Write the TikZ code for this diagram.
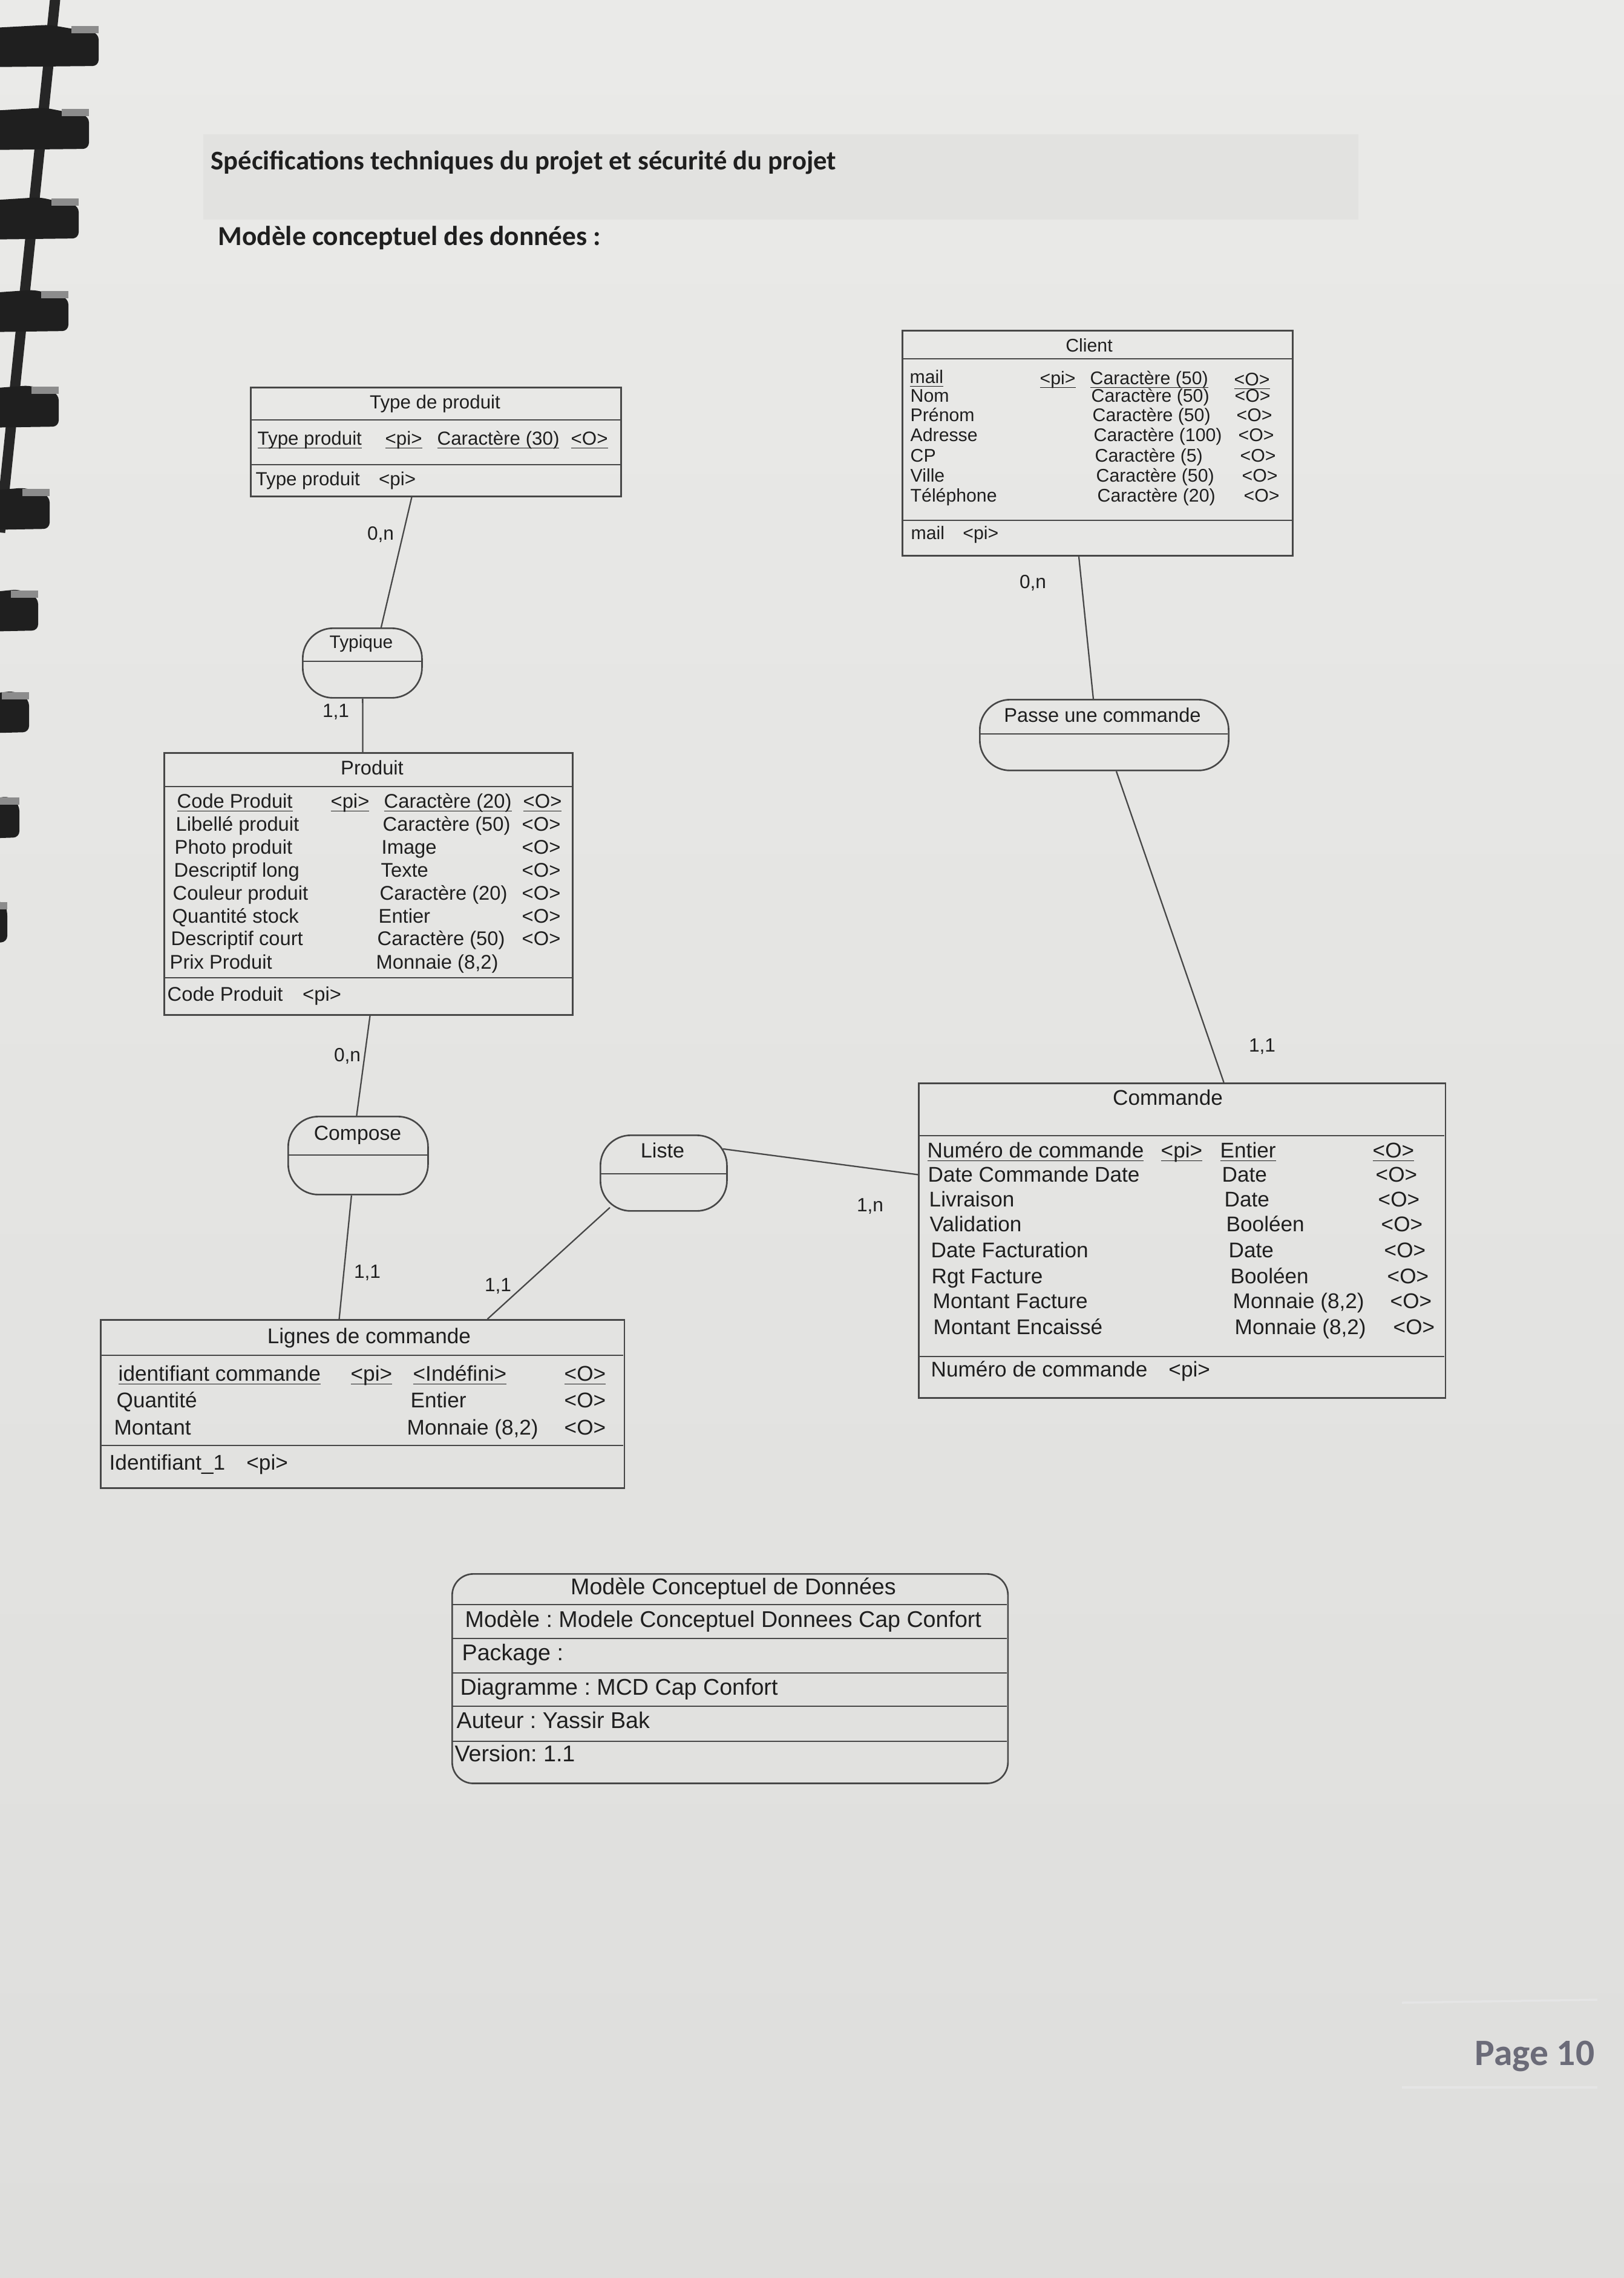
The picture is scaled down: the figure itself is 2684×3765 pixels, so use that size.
\documentclass[tikz,border=0pt]{standalone}
\usepackage{fontspec}
\setmainfont{Liberation Sans}
\newfontfamily\carl{Carlito}
\frenchspacing
\newcommand\ulx[1]{\setbox0=\hbox{#1}\rlap{\rule[-1.7pt]{\wd0}{0.5pt}}\box0}
\definecolor{ink}{HTML}{1F1F1F}
\definecolor{rl}{HTML}{474747}
\definecolor{pA}{HTML}{EAEAE8}
\definecolor{pB}{HTML}{DEDEDC}
\definecolor{band}{HTML}{D5D5D3}
\definecolor{pg}{HTML}{6B6B78}
\begin{document}
\begin{tikzpicture}[x=0.01cm,y=-0.01cm,
 ent/.style={draw=rl,line width=0.75pt,rectangle,inner sep=0pt,anchor=north west},
 asso/.style={ent,rounded corners=0.5cm},
 lnk/.style={draw=rl,line width=0.65pt},
 sepl/.style={draw=rl,line width=0.75pt},
 tx/.style={inner sep=0pt,anchor=mid west,text=ink},
 tt/.style={inner sep=0pt,anchor=mid,text=ink},
 card/.style={inner sep=0pt,anchor=mid,text=ink,font=\fontsize{9}{10}\selectfont},
 fTd/.style={font=\fontsize{8.9}{10}\selectfont},
 fCl/.style={font=\fontsize{8.6}{10}\selectfont},
 fPr/.style={font=\fontsize{9.3}{10}\selectfont},
 fCm/.style={font=\fontsize{10}{11}\selectfont},
 fIn/.style={font=\fontsize{10.7}{12}\selectfont},
 head/.style={inner sep=0pt,anchor=mid west,text=ink,font=\carl\bfseries\fontsize{12.7}{14}\selectfont},
 tab/.style={fill=black!88,rounded corners=0.1cm}
]
\useasboundingbox (0,0) rectangle (2684,3765);
\shade[top color=pA,bottom color=pB] (0,0) rectangle (2684,3765);

% binder comb
\draw[line width=0.17cm,black!85] (92,-10) -- (0,880);
\foreach \yy/\xe in {77/163,214/147,362/130,515/113,673/97,842/82,1010/63,1178/48,1352/32,1525/12}{
  \fill[tab] (-30,\yy-30) -- (\xe*0.5,\yy-36) -- (\xe,\yy-22) -- (\xe,\yy+32) -- (-30,\yy+34) -- cycle;
  \fill[black!45] (\xe-45,\yy-34) rectangle (\xe,\yy-22);
}

% header
\shade[top color=band!40!pA,middle color=band,bottom color=band!40!pA] (336,222) rectangle (2245,362);
\node[head] (h1) at (348,271) {Spécifications techniques du projet et sécurité du projet};
\node[head,font=\carl\bfseries\fontsize{12.9}{14}\selectfont] (h2) at (360,396) {Modèle conceptuel des données :};

% ---------- Type de produit
\node[ent,minimum width=6.12cm,minimum height=1.80cm] (tdp) at (413,639) {};
\draw[sepl] (413,694) -- (1025,694);
\draw[sepl] (413,768) -- (1025,768);
\node[tt,fTd] (tdp-t) at (719,666) {Type de produit};
\node[tx,fTd] (tdp-1a) at (425,726) {\ulx{Type produit}};
\node[tx,fTd] (tdp-1b) at (636,726) {\ulx{<pi>}};
\node[tx,fTd] (tdp-1c) at (722,726) {\ulx{Caractère (30)}};
\node[tx,fTd] (tdp-1d) at (943,726) {\ulx{<O>}};
\node[tx,fTd] (tdp-k) at (422,793) {Type produit\quad<pi>};

% ---------- Client
\node[ent,minimum width=6.45cm,minimum height=3.72cm] (cli) at (1490,545) {};
\draw[sepl] (1490,593) -- (2135,593);
\draw[sepl] (1490,860) -- (2135,860);
\node[tt,fCl] (cli-t) at (1800,572) {Client};
\node[tx,fCl] (cli-1a) at (1503,624) {\ulx{mail}};
\node[tx,fCl] (cli-1b) at (1718,626) {\ulx{<pi>}};
\node[tx,fCl] (cli-1c) at (1801,626) {\ulx{Caractère (50)}};
\node[tx,fCl] (cli-1d) at (2039,628) {\ulx{<O>}};
\foreach \i/\y/\a/\b/\xb/\xc in {2/655/Nom/Caractère (50)/1803/2040,3/687/Prénom/Caractère (50)/1805/2043,4/720/Adresse/Caractère (100)/1807/2046,5/754/CP/Caractère (5)/1809/2049,6/787/Ville/Caractère (50)/1811/2052,7/820/Téléphone/Caractère (20)/1813/2055}{
  \node[tx,fCl] (cli-\i a) at (1504,\y) {\a};
  \node[tx,fCl] (cli-\i b) at (\xb,\y) {\b};
  \node[tx,fCl] (cli-\i c) at (\xc,\y) {<O>};
}
\node[tx,fCl] (cli-k) at (1505,882) {mail\quad<pi>};

% ---------- Produit
\node[ent,minimum width=6.75cm,minimum height=4.33cm] (pro) at (270,1243) {};
\draw[sepl] (270,1300) -- (945,1300);
\draw[sepl] (270,1616) -- (945,1616);
\node[tt,fPr] (pro-t) at (615,1271) {Produit};
\node[tx,fPr] (pro-1a) at (292,1326) {\ulx{Code Produit}};
\node[tx,fPr] (pro-1b) at (546,1326) {\ulx{<pi>}};
\node[tx,fPr] (pro-1c) at (634,1326) {\ulx{Caractère (20)}};
\node[tx,fPr] (pro-1d) at (864,1326) {\ulx{<O>}};
\foreach \i/\y/\xa/\a/\xb/\b in {2/1364/290/Libellé produit/632/Caractère (50),3/1402/288/Photo produit/630/Image,4/1440/287/Descriptif long/629/Texte,5/1478/285/Couleur produit/627/Caractère (20),6/1516/284/Quantité stock/625/Entier,7/1553/282/Descriptif court/623/Caractère (50)}{
  \node[tx,fPr] (pro-\i a) at (\xa,\y) {\a};
  \node[tx,fPr] (pro-\i b) at (\xb,\y) {\b};
  \node[tx,fPr] (pro-\i c) at (862,\y) {<O>};
}
\node[tx,fPr] (pro-8a) at (280,1592) {Prix Produit};
\node[tx,fPr] (pro-8b) at (621,1592) {Monnaie (8,2)};
\node[tx,fPr] (pro-k) at (276,1645) {Code Produit\quad<pi>};

% ---------- Commande
\node[ent,minimum width=8.70cm,minimum height=5.20cm] (com) at (1517,1789) {};
\draw[sepl] (1517,1877) -- (2387,1877);
\draw[sepl] (1517,2242) -- (2387,2242);
\node[tt,fCm] (com-t) at (1930,1817) {Commande};
\node[tx,fCm] (com-1a) at (1532,1904) {\ulx{Numéro de commande}};
\node[tx,fCm] (com-1b) at (1918,1904) {\ulx{<pi>}};
\node[tx,fCm] (com-1c) at (2016,1904) {\ulx{Entier}};
\node[tx,fCm] (com-1d) at (2268,1904) {\ulx{<O>}};
\foreach \i/\y/\xa/\a/\xb/\b/\xc in {2/1944/1533/Date Commande Date/2019/Date/2273,3/1985/1535/Livraison/2023/Date/2277,4/2026/1536/Validation/2026/Booléen/2282,5/2069/1538/Date Facturation/2030/Date/2287,6/2112/1539/Rgt Facture/2033/Booléen/2292,7/2153/1541/Montant Facture/2037/{Monnaie (8,2)}/2297,8/2196/1542/Montant Encaissé/2040/{Monnaie (8,2)}/2302}{
  \node[tx,fCm] (com-\i a) at (\xa,\y) {\a};
  \node[tx,fCm] (com-\i b) at (\xb,\y) {\b};
  \node[tx,fCm] (com-\i c) at (\xc,\y) {<O>};
}
\node[tx,fCm] (com-k) at (1538,2266) {Numéro de commande\quad<pi>};

% ---------- Lignes de commande
\node[ent,minimum width=8.65cm,minimum height=2.78cm] (lig) at (165,2180) {};
\draw[sepl] (165,2240) -- (1030,2240);
\draw[sepl] (165,2389) -- (1030,2389);
\node[tt,fCm] (lig-t) at (610,2211) {Lignes de commande};
\node[tx,fCm] (lig-1a) at (195,2273) {\ulx{identifiant commande}};
\node[tx,fCm] (lig-1b) at (579,2273) {\ulx{<pi>}};
\node[tx,fCm] (lig-1c) at (682,2273) {\ulx{<Indéfini>}};
\node[tx,fCm] (lig-1d) at (932,2273) {\ulx{<O>}};
\node[tx,fCm] (lig-2a) at (192,2317) {Quantité};
\node[tx,fCm] (lig-2b) at (678,2317) {Entier};
\node[tx,fCm] (lig-2c) at (932,2317) {<O>};
\node[tx,fCm] (lig-3a) at (188,2362) {Montant};
\node[tx,fCm] (lig-3b) at (672,2362) {Monnaie (8,2)};
\node[tx,fCm] (lig-3c) at (932,2362) {<O>};
\node[tx,fCm] (lig-k) at (180,2420) {Identifiant\_1\quad<pi>};

% ---------- Associations
\node[asso,minimum width=1.97cm,minimum height=1.15cm] (typ) at (499,1037) {};
\draw[sepl] (499,1093) -- (696,1093);
\node[tt,font=\fontsize{8.5}{10}\selectfont] (typ-t) at (597,1062) {Typique};

\node[asso,minimum width=4.11cm,minimum height=1.17cm] (pas) at (1618,1155) {};
\draw[sepl] (1618,1213) -- (2029,1213);
\node[tt,font=\fontsize{9.3}{10}\selectfont] (pas-t) at (1822,1184) {Passe une commande};

\node[asso,minimum width=2.31cm,minimum height=1.29cm] (cps) at (475,1844) {};
\draw[sepl] (475,1909) -- (706,1909);
\node[tt,font=\fontsize{9.6}{10}\selectfont] (cps-t) at (591,1875) {Compose};

\node[asso,minimum width=2.09cm,minimum height=1.25cm] (lst) at (991,1875) {};
\draw[sepl] (991,1940) -- (1200,1940);
\node[tt,font=\fontsize{9.7}{10}\selectfont] (lst-t) at (1095,1904) {Liste};

% ---------- Connectors
\draw[lnk] ([xshift=-0.40cm]tdp.south) -- ([xshift=0.31cm]typ.north);
\draw[lnk] ([xshift=0.005cm]typ.south) -- ([xshift=-0.095cm]pro.north);
\draw[lnk] ([xshift=-0.31cm]cli.south) -- ([xshift=-0.18cm]pas.north);
\draw[lnk] ([xshift=0.20cm]pas.south) -- ([xshift=0.69cm]com.north);
\draw[lnk] ([xshift=0.025cm]pro.south) -- ([xshift=-0.025cm]cps.north);
\draw[lnk] ([xshift=-0.11cm]cps.south) -- ([xshift=-0.385cm]lig.north);
\draw[lnk] ([xshift=-0.08cm,yshift=0.40cm]lst.east) -- ([yshift=1.09cm]com.west);
\draw[lnk] ([xshift=0.17cm,yshift=0.07cm]lst.south west) -- ([xshift=2.065cm]lig.north);

% ---------- Cardinalities
\node[card] (k1) at (629,883) {0,n};
\node[card] (k2) at (555,1176) {1,1};
\node[card] (k3) at (1707,963) {0,n};
\node[card] (k4) at (2086,1729) {1,1};
\node[card] (k5) at (574,1745) {0,n};
\node[card] (k6) at (607,2103) {1,1};
\node[card] (k7) at (1438,1993) {1,n};
\node[card] (k8) at (823,2125) {1,1};

% ---------- Info block
\node[ent,rounded corners=0.35cm,minimum width=9.18cm,minimum height=3.46cm] (inf) at (746,2600) {};
\foreach \yy in {2652,2708,2765,2820,2878}{\draw[sepl] (746,\yy) -- (1664,\yy);}
\node[tt,fIn] (inf-t) at (1212,2626) {Modèle Conceptuel de Données};
\node[tx,fIn] (inf-1) at (768,2680) {Modèle : Modele Conceptuel Donnees Cap Confort};
\node[tx,fIn] (inf-2) at (763,2735) {Package :};
\node[tx,fIn] (inf-3) at (760,2792) {Diagramme : MCD Cap Confort};
\node[tx,fIn] (inf-4) at (754,2847) {Auteur : Yassir Bak};
\node[tx,fIn] (inf-5) at (751,2902) {Version: 1.1};

% ---------- Page footer
\draw[black!10,line width=1pt] (2317,3310) -- (2640,3305);
\draw[black!10,line width=1pt] (2317,3450) -- (2640,3450);
\node[inner sep=0pt,anchor=mid west,text=pg,font=\carl\bfseries\fontsize{17.5}{20}\selectfont] (pg) at (2437,3404) {Page 10};
\end{tikzpicture}
\end{document}
